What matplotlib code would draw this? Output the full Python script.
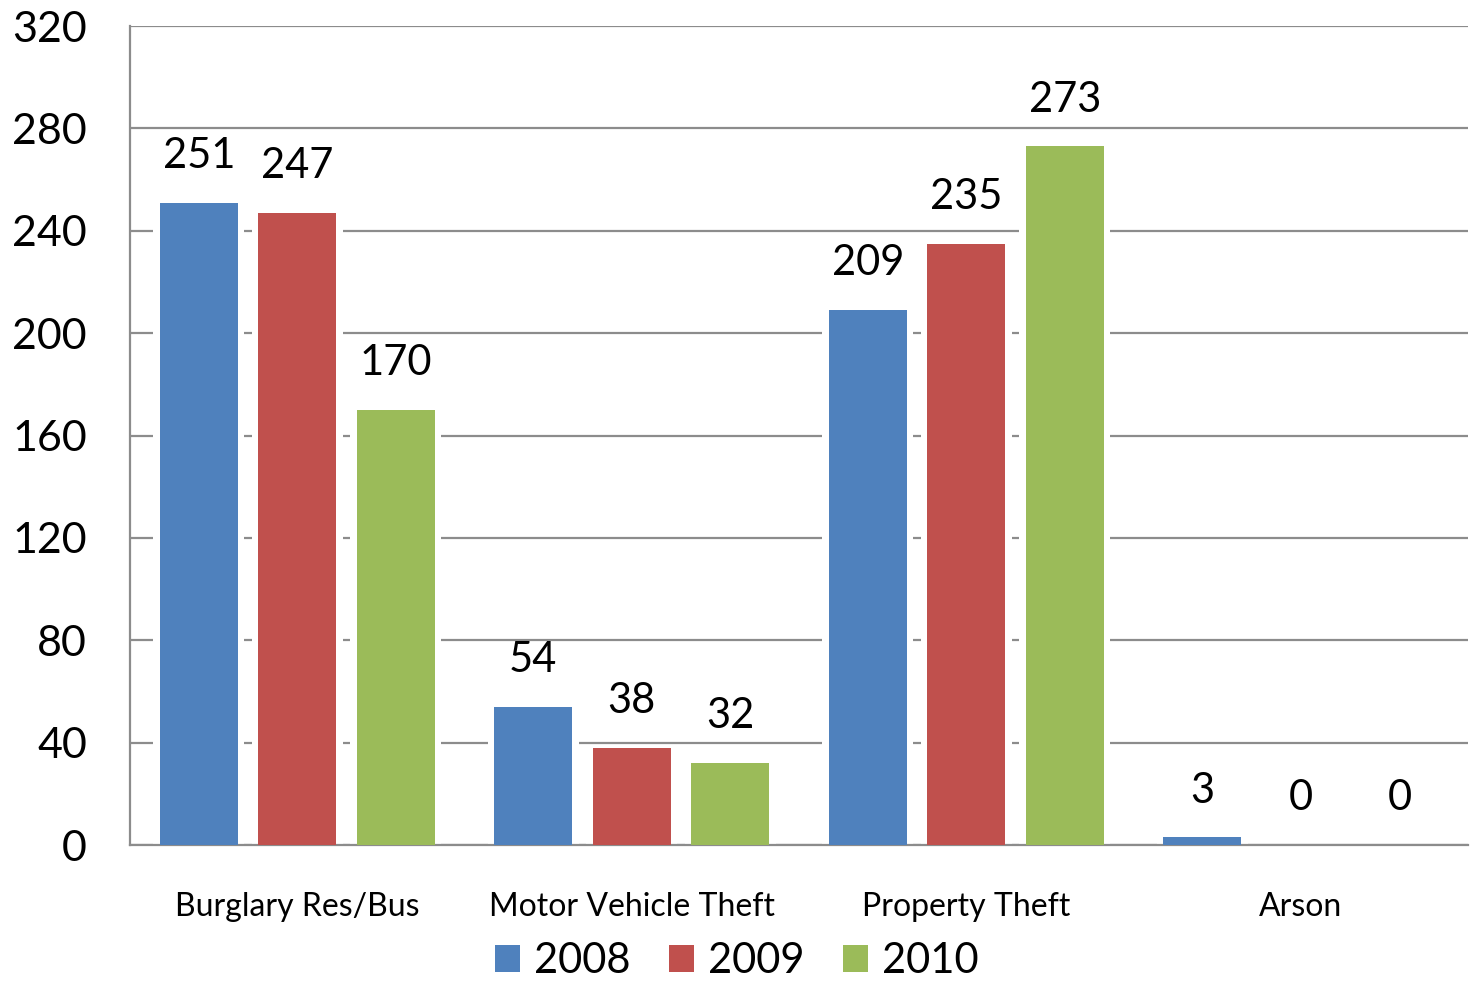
import matplotlib
matplotlib.use("Agg")
import matplotlib.pyplot as plt
import numpy as np
from matplotlib.patches import Patch

categories = ["Burglary Res/Bus", "Motor Vehicle Theft", "Property Theft", "Arson"]
years = ["2008", "2009", "2010"]
values_2008 = [251, 54, 209, 3]
values_2009 = [247, 38, 235, 0]
values_2010 = [170, 32, 273, 0]
series = [values_2008, values_2009, values_2010]
colors = ["#4F81BD", "#C0504D", "#9BBB59"]
yticks = [0, 40, 80, 120, 160, 200, 240, 280, 320]

plt.rcParams['font.family'] = ['Lato', 'DejaVu Sans']

fig = plt.figure(figsize=(14.74, 9.85), dpi=100)
ax = fig.add_axes([0.0882, 0.1421, 0.9078, 0.8315])

x = np.arange(len(categories))
spacing = 0.2945
width = 0.233
for i, (vals, col) in enumerate(zip(series, colors)):
    pos = x + (i - 1) * spacing
    # soft shadow + white halo
    ax.bar(pos + 0.004, vals, width + 0.012, color="#d0d0d0", zorder=2, linewidth=0)
    ax.bar(pos, vals, width + 0.04, color="white", zorder=2.5, linewidth=0)
    bars = ax.bar(pos, vals, width, color=col, zorder=3, linewidth=0)
    for b, v in zip(bars, vals):
        ax.annotate(str(v), (b.get_x() + b.get_width() / 2, v),
                    xytext=(0, 20), textcoords="offset points",
                    ha="center", va="bottom", fontsize=30, color="black")

ax.set_xlim(-0.5, len(categories) - 0.5)
ax.set_ylim(0, 320)
ax.set_yticks(yticks)
ax.set_yticklabels([str(t) for t in yticks], fontsize=31)
ax.set_xticks(x)
ax.set_xticklabels(categories, fontsize=23)
ax.tick_params(axis="y", length=0, pad=31)
ax.tick_params(axis="x", length=0, pad=34)

ax.grid(axis="y", color="#8c8c8c", linewidth=1.6, zorder=1)
ax.set_axisbelow(True)
for s in ["top", "right"]:
    ax.spines[s].set_visible(False)
ax.spines["left"].set_color("#8c8c8c")
ax.spines["left"].set_linewidth(1.6)
ax.spines["bottom"].set_color("#8c8c8c")
ax.spines["bottom"].set_linewidth(1.6)

handles = [Patch(facecolor=c, edgecolor="none") for c in colors]
fig.legend(handles, years, loc="center", ncol=3, frameon=False,
           fontsize=30, bbox_to_anchor=(0.5, 0.024), handlelength=0.6,
           handleheight=0.6, handletextpad=0.33, columnspacing=0.93,
           borderpad=0.0)

fig.savefig("out.png", dpi=100)
